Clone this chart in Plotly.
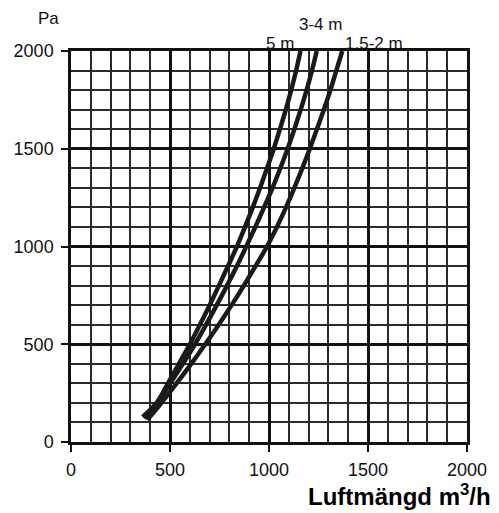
import plotly.graph_objects as go

# Curve data: airflow (m3/h) vs pressure (Pa)
series_names = ["5 m", "3-4 m", "1,5-2 m"]

flow_5m = [362, 432, 490, 545, 600, 651, 700, 747, 793, 838, 879, 918, 955, 990, 1024, 1055, 1085, 1112, 1137, 1159]
pa_5m = [128, 200, 300, 400, 500, 600, 700, 800, 900, 1000, 1100, 1200, 1300, 1400, 1500, 1600, 1700, 1800, 1900, 2000]

flow_34m = [370, 437, 501, 565, 626, 682, 736, 788, 838, 885, 931, 975, 1018, 1057, 1094, 1128, 1160, 1190, 1217, 1241]
pa_34m = [122, 200, 300, 400, 500, 600, 700, 800, 900, 1000, 1100, 1200, 1300, 1400, 1500, 1600, 1700, 1800, 1900, 2000]

flow_152m = [385, 457, 533, 607, 678, 746, 811, 873, 932, 990, 1040, 1086, 1128, 1168, 1206, 1242, 1277, 1310, 1340, 1370]
pa_152m = [113, 200, 300, 400, 500, 600, 700, 800, 900, 1000, 1100, 1200, 1300, 1400, 1500, 1600, 1700, 1800, 1900, 2000]

tick_vals = [0, 500, 1000, 1500, 2000]
tick_text = ["0", "500", "1000", "1500", "2000"]

FONT = "Liberation Sans, Arial, sans-serif"
LINE_COLOR = "#1a1a1a"

fig = go.Figure()
for name, xs, ys in zip(series_names, [flow_5m, flow_34m, flow_152m], [pa_5m, pa_34m, pa_152m]):
    fig.add_trace(go.Scatter(
        x=xs, y=ys, mode="lines", name=name,
        line=dict(color=LINE_COLOR, width=4.5, shape="spline", smoothing=1.0),
        showlegend=False, hoverinfo="x+y",
    ))

axis_common = dict(
    range=[0, 2000],
    tickvals=tick_vals, ticktext=tick_text,
    showgrid=True, gridcolor="#111111", gridwidth=2.5,
    showline=True, linecolor="#111111", linewidth=2.5, mirror=True,
    ticks="outside", ticklen=7, tickwidth=2, tickcolor="#111111",
    tickfont=dict(family=FONT, size=18, color="#111111"),
    zeroline=False,
    minor=dict(dtick=100, showgrid=True, gridcolor="#2a2a2a", gridwidth=1.5, ticks=""),
    fixedrange=True,
)

fig.update_layout(
    width=499, height=513,
    margin=dict(l=71, r=27, t=51, b=71),
    paper_bgcolor="white", plot_bgcolor="white",
    xaxis=dict(**axis_common, ticklabelstandoff=3),
    yaxis=dict(**axis_common, ticklabelstandoff=4),
    font=dict(family=FONT, color="#111111"),
)

# Curve labels at the top
label_pos = [(0.529, 1.02), (0.629, 1.068), (0.765, 1.02)]
for name, (px, py) in zip(series_names, label_pos):
    fig.add_annotation(x=px, y=py, xref="paper", yref="paper", text=name,
                       showarrow=False, font=dict(family=FONT, size=17, color="#111111"),
                       xanchor="center", yanchor="middle")

fig.add_annotation(x=-0.057, y=1.084, xref="paper", yref="paper", text="Pa",
                   showarrow=False, font=dict(family=FONT, size=17, color="#111111"),
                   xanchor="center", yanchor="middle")

fig.add_annotation(x=1.065, y=-0.135, xref="paper", yref="paper",
                   text="<b>Luftmängd m<sup>3</sup>/h</b>",
                   showarrow=False, font=dict(family=FONT, size=24, color="#000000"),
                   xanchor="right", yanchor="middle")

fig.write_html("out.html",
               config={"displayModeBar": False},
               post_script="document.body.style.margin='0';document.body.style.overflow='hidden';")
